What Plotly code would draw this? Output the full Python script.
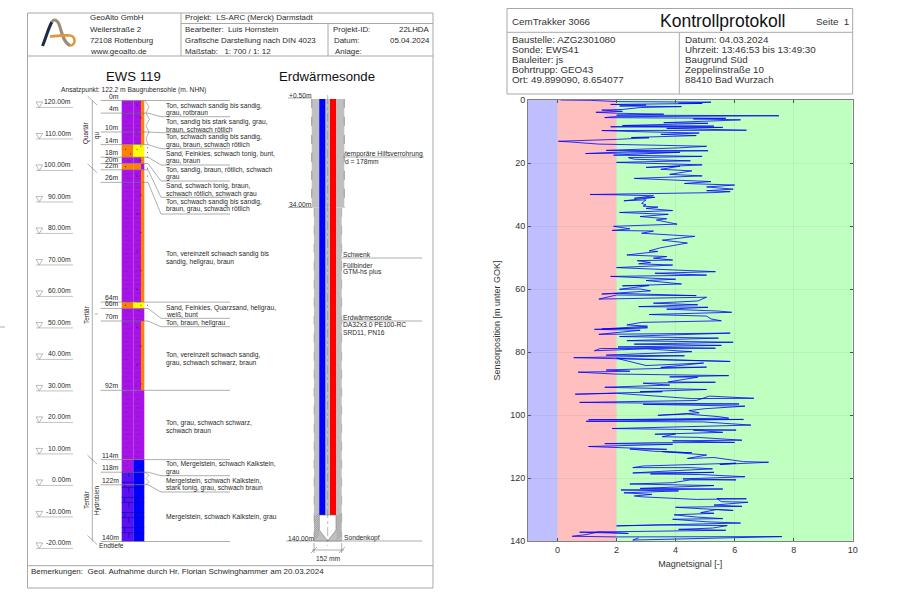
import plotly.graph_objects as go

# Magnetsignal log
signal_depth = [
    0.0, 0.1, 0.5, 0.7, 1.0, 1.1, 1.4, 1.6, 1.9, 2.1, 2.4, 3.0, 3.2, 3.6, 3.9, 4.2, 4.5, 4.8, 5.0, 5.3,
    5.6, 5.8, 6.0, 6.3, 6.5, 7.2, 7.4, 8.1, 8.3, 8.5, 8.7, 9.0, 9.6, 9.7, 10.0, 10.5, 10.9, 11.3, 11.9, 12.0,
    12.5, 13.1, 13.3, 14.0, 14.4, 14.7, 15.2, 16.0, 16.1, 16.4, 17.0, 16.6, 17.5, 17.9, 18.3, 18.8, 19.3, 19.8, 20.6, 21.4,
    21.0, 22.0, 22.5, 23.6, 24.1, 24.9, 25.9, 26.5, 27.0, 27.6, 28.3, 28.8, 29.1, 29.4, 30.0, 29.7, 30.1, 30.4, 31.2, 30.9,
    32.0, 31.7, 32.8, 33.3, 33.7, 34.0, 34.4, 35.1, 35.7, 36.3, 37.0, 37.7, 38.1, 39.4, 40.1, 40.9, 41.4, 41.6, 42.3, 43.3,
    43.9, 44.5, 45.4, 46.9, 47.9, 48.1, 49.2, 49.7, 50.2, 50.8, 51.0, 51.6, 52.0, 52.4, 53.2, 53.7, 54.5, 55.0, 55.6, 56.0,
    56.4, 56.9, 57.3, 58.4, 59.0, 58.9, 60.1, 60.0, 60.6, 61.6, 61.4, 62.1, 61.9, 63.2, 62.6, 63.8, 64.5, 65.0, 65.6, 65.8,
    66.4, 67.0, 67.4, 68.1, 68.6, 69.5, 70.1, 70.6, 71.4, 71.8, 72.7, 72.3, 72.8, 73.1, 74.4, 74.0, 75.1, 75.6, 76.4, 76.9,
    77.5, 77.9, 78.4, 78.8, 78.9, 79.6, 79.0, 79.9, 81.0, 81.2, 81.8, 83.0, 82.0, 84.3, 83.5, 84.9, 84.8, 85.7, 86.1, 86.4,
    87.0, 87.2, 87.5, 87.9, 88.0, 89.5, 89.6, 89.9, 90.5, 91.2, 91.9, 92.6, 92.6, 93.4, 93.1, 94.8, 94.7, 94.0, 95.4, 96.0,
    96.5, 96.6, 97.2, 98.0, 98.6, 99.3, 100.1, 99.7, 100.5, 101.0, 101.4, 101.5, 101.4, 102.0, 102.2, 103.2, 104.2, 104.3, 104.8, 104.8,
    105.5, 106.1, 106.0, 106.9, 107.1, 108.0, 108.2, 108.7, 108.8, 109.1, 109.3, 110.0, 110.3, 110.9, 110.8, 111.5, 112.0, 111.6, 112.7, 113.8,
    113.5, 114.3, 114.8, 115.0, 115.7, 115.3, 116.2, 116.7, 116.7, 117.1, 117.9, 118.4, 118.2, 118.7, 118.9, 119.6, 120.3, 120.6, 120.6, 121.5,
    121.9, 122.4, 123.3, 123.5, 123.8, 124.1, 124.7, 125.2, 125.7, 126.0, 126.8, 126.6, 126.5, 127.5, 127.7, 128.6, 129.0, 129.3, 130.3, 130.0,
    131.0, 131.2, 131.7, 132.4, 132.9, 133.1, 133.9, 134.3, 135.2, 134.9, 135.1, 135.9, 136.3, 136.6, 137.2, 137.6, 137.1, 138.0, 138.5, 138.7,
    138.6, 139.7, 139.0,
]
signal_value = [
    0.1, 1.1, 2.0, 5.2, 4.1, 4.9, 1.8, 3.0, 2.1, 4.2, 2.8, 2.2, 1.5, 2.2, 1.3, 2.0, 3.6, 2.0, 7.5, 1.9,
    1.6, 5.7, 4.6, 6.2, 5.7, 3.6, 5.1, 2.2, 5.3, 1.8, 5.6, 3.7, 6.4, 1.5, 2.5, 4.8, 3.5, 4.7, 2.5, 3.1,
    2.0, 0.03, 0.4, 1.4, 3.6, 5.05, 4.1, 1.65, 5.1, 2.45, 0.95, 4.15, 1.9, 4.9, 2.4, 2.6, 4.5, 2.0, 4.9, 3.0,
    4.15, 3.5, 4.55, 3.8, 4.9, 2.6, 5.2, 4.3, 6.0, 5.05, 5.95, 5.05, 5.85, 5.3, 1.1, 4.15, 2.0, 3.25, 2.6, 3.3,
    2.25, 3.0, 2.85, 3.0, 2.9, 3.4, 3.0, 3.9, 2.1, 3.75, 2.8, 3.7, 3.35, 4.05, 1.9, 2.45, 1.85, 3.25, 2.85, 4.65,
    4.1, 3.55, 4.4, 3.5, 3.1, 3.4, 2.35, 3.7, 3.25, 3.9, 2.7, 3.15, 2.75, 3.9, 2.0, 3.15, 5.35, 3.3, 5.05, 1.8,
    3.0, 4.0, 3.0, 4.2, 2.2, 3.1, 2.1, 2.8, 3.15, 1.5, 2.1, 4.7, 2.0, 1.4, 5.05, 4.75, 3.25, 4.75, 2.75, 5.1,
    3.7, 5.45, 5.9, 3.1, 5.05, 5.2, 5.55, 2.85, 2.35, 3.05, 1.5, 3.05, 1.25, 2.8, 1.4, 5.85, 2.1, 5.45, 2.35, 5.95,
    2.6, 5.55, 2.05, 5.35, 1.45, 1.25, 3.0, 4.55, 1.65, 4.3, 0.55, 5.85, 2.0, 3.0, 4.95, 3.5, 5.05, 1.65, 2.45, 0.7,
    1.95, 3.5, 5.8, 3.8, 4.75, 3.75, 5.35, 2.9, 3.8, 1.6, 5.05, 2.8, 3.55, 0.6, 2.0, 4.55, 6.65, 5.15, 4.7, 0.75,
    6.15, 2.9, 6.35, 5.0, 4.45, 4.8, 3.4, 4.4, 5.45, 5.8, 2.6, 1.05, 6.3, 0.97, 4.95, 6.55, 2.1, 1.85, 6.05, 4.6,
    5.6, 3.3, 4.0, 3.55, 4.75, 6.25, 3.9, 6.0, 3.25, 1.6, 3.9, 1.05, 2.0, 3.7, 2.45, 3.25, 4.55, 3.55, 5.05, 4.4,
    5.3, 5.85, 6.3, 7.15, 5.5, 6.05, 2.9, 2.55, 4.5, 5.25, 3.5, 2.55, 5.3, 3.15, 4.85, 6.35, 4.25, 6.05, 4.5, 3.9,
    2.45, 5.3, 2.8, 5.6, 2.15, 4.1, 2.25, 3.2, 2.6, 2.9, 4.7, 6.4, 5.4, 5.55, 6.45, 5.3, 6.25, 4.0, 5.95, 5.4,
    4.85, 5.3, 3.95, 4.7, 5.6, 3.9, 5.05, 6.2, 2.0, 3.5, 5.75, 5.25, 4.1, 5.7, 0.75, 2.4, 1.4, 0.95, 0.5, 2.0,
    7.6, 2.55, 2.75,
]
zone_edges = [-1, 0, 2, 10]
zone_colors = ["#bfbfff", "#ffbfbf", "#bfffbf"]

# borehole layers
layer_top = [0, 14, 18, 20, 22, 64, 66, 70, 92, 114, 118, 122]
layer_bottom = [14, 18, 20, 22, 64, 66, 70, 92, 114, 118, 122, 140]
P, O, Y, B, V = "#a814e8", "#ff8000", "#ffff00", "#0000ff", "#5a10f0"
layer_left = [P, O, P, O, P, O, P, P, P, P, V, V]
layer_mid = [P, Y, P, O, P, Y, P, P, P, B, B, B]
layer_right = [O, Y, O, P, O, Y, P, O, P, B, B, B]
depth_marks = [0, 4, 10, 14, 18, 20, 22, 26, 64, 66, 70, 92, 114, 118, 122, 140]
elevations = [120, 110, 100, 90, 80, 70, 60, 50, 40, 30, 20, 10, 0, -10, -20]
ground_level = 122.2

note_lines = [
    "Ton, schwach sandig bis sandig,", "grau, rotbraun",
    "Ton, sandig bis stark sandig, grau,", "braun, schwach rötlich",
    "Ton, schwach sandig bis sandig,", "grau, braun, schwach rötlich",
    "Sand, Feinkies, schwach tonig, bunt,", "grau, braun",
    "Ton, sandig, braun, rötlich, schwach", "grau",
    "Sand, schwach tonig, braun,", "schwach rötlich, schwach grau",
    "Ton, schwach sandig bis sandig,", "braun, grau, schwach rötlich",
    "Ton, vereinzelt schwach sandig bis", "sandig, hellgrau, braun",
    "Sand, Feinkies, Quarzsand, hellgrau,", "weiß, bunt",
    "Ton, braun, hellgrau",
    "Ton, vereinzelt schwach sandig,", "grau, schwach schwarz, braun",
    "Ton, grau, schwach schwarz,", "schwach braun",
    "Ton, Mergelstein, schwach Kalkstein,", "grau",
    "Mergelstein, schwach Kalkstein,", "stark tonig, grau, schwach braun",
    "Mergelstein, schwach Kalkstein, grau",
]
note_rows = [
    105.7, 113, 121.7, 129.3, 137.3, 145, 153.7, 161, 169.7, 177.3, 186, 193.7, 202, 209.3,
    254, 262, 307.7, 314.7, 323.3, 355, 362.7, 423, 430, 464.3, 472, 480.7, 488.3, 516.7,
]
elbow_depths = [4, 10, 14, 18, 20, 22, 26, 66, 70, 118, 122]
elbow_rows = [116.7, 132.7, 148.7, 165, 181, 197.3, 214, 318.3, 326.7, 475.7, 492]
straight_depths = [0, 64, 92, 114, 140]

header_left = ["GeoAlto GmbH", "Weilerstraße 2", "72108 Rottenburg", "www.geoalto.de"]
header_mid = ["Projekt:  LS-ARC (Merck) Darmstadt", "Bearbeiter:  Luis Hornstein",
              "Grafische Darstellung nach DIN 4023", "Maßstab:   1: 700 / 1: 12"]
header_rows = [17.5, 29, 40, 51]
protocol_left = ["Baustelle: AZG2301080", "Sonde: EWS41", "Bauleiter: js", "Bohrtrupp: GEO43",
                 "Ort: 49.899090, 8.654077"]
protocol_right = ["Datum: 04.03.2024", "Uhrzeit: 13:46:53 bis 13:49:30", "Baugrund Süd",
                  "Zeppelinstraße 10", "88410 Bad Wurzach"]
protocol_rows = [39, 49, 59, 69, 79]

FONT = "Liberation Sans"
GREY = "#a8a8a8"
TXT = "#2a2a2a"
shapes = []
notes = []


def text(x, y, s, size=6.7, anchor="left", angle=0, color=TXT, yref="y2"):
    notes.append(dict(x=x, y=y, xref="x2", yref=yref, text=s, showarrow=False, xanchor=anchor,
                      yanchor="middle", textangle=angle, borderpad=0,
                      font=dict(family=FONT, size=size, color=color)))


def line(x0, y0, x1, y1, color="#777777", width=0.6, yref="y2", dash=None):
    shapes.append(dict(type="line", x0=x0, y0=y0, x1=x1, y1=y1, xref="x2", yref=yref, layer="above",
                       line=dict(color=color, width=width, dash=dash)))


def rect(x0, y0, x1, y1, fill, yref="y2", border=None, width=0.6):
    shapes.append(dict(type="rect", x0=x0, y0=y0, x1=x1, y1=y1, xref="x2", yref=yref, layer="above",
                       fillcolor=fill, line=dict(color=border or fill, width=width if border else 0)))


def path(d, color, width=0.6, yref="y2", fill=None):
    shapes.append(dict(type="path", path=d, xref="x2", yref=yref, layer="above", fillcolor=fill,
                       line=dict(color=color, width=width)))


# frames
rect(27.5, 13, 433, 588, "rgba(0,0,0,0)", border=GREY, width=1)
line(27.5, 56, 433, 56, GREY, 1)
line(181, 13, 181, 56, GREY, 1)
line(181, 23.5, 433, 23.5, GREY, 1)
line(328, 23.5, 328, 56, GREY, 1)
line(27.5, 565.7, 433, 565.7, GREY, 1)
rect(507, 8.5, 852.7, 94, "rgba(0,0,0,0)", border=GREY, width=1)
line(507, 32.3, 852.7, 32.3, GREY, 1)
line(679.3, 32.3, 679.3, 94, GREY, 1)
line(0, 327, 5, 327, "#999999", 0.8)

# logo
path("M 42.5,46 C 46,38 49,26 52,22", "#1c2b45", 3)
path("M 52,22 C 54,18 58,20 60,27 C 62,34 64,43 70,45.5", "#9a8c76", 3)
path("M 70,45.5 C 76,46 76,36 70,35.5 C 63,35 56,36 50,36.5", "#e0973a", 2.6)

for s, r in zip(header_left, header_rows):
    text(89, r, s, 7.9)
for s, r in zip(header_mid, header_rows):
    text(184, r, s, 7.9)
text(332, 29, "Projekt-ID:", 7.9)
text(333, 40, "Datum:", 7.9)
text(333.5, 51, "Anlage:", 7.9)
text(431, 29, "22LHDA", 7.9, "right")
text(431, 40, "05.04.2024", 7.9, "right")
text(133, 76, "EWS 119", 13.2, "center", color="#111111")
text(327, 76, "Erdwärmesonde", 13.2, "center", color="#111111")
text(133.5, 89.5, "Ansatzpunkt: 122.2 m Baugrubensohle (m. NHN)", 6.7, "center")
text(30, 571.5, "Bemerkungen:  Geol. Aufnahme durch Hr. Florian Schwinghammer am 20.03.2024", 8)

# borehole column
XL, XM, XR, XE = 121.7, 133.3, 141.0, 144.3
for top, bot, a, b, c in zip(layer_top, layer_bottom, layer_left, layer_mid, layer_right):
    rect(XL, top, XM, bot, a, "y3")
    rect(XM, top, XR, bot, b, "y3")
    rect(XR, top, XE, bot, c, "y3")

# soil hatching
dash_path = ""
d = 1.0
k = 0
while d < 118:
    if not (14 <= d < 18 or 20 <= d < 22 or 64 <= d < 66):
        off = 2 if k % 2 else 0
        dash_path += f"M {XL + 2 + off},{d} L {XL + 7 + off},{d} M {XM + 1 + off},{d} L {XM + 5 + off},{d} "
    d += 1.4
    k += 1
path(dash_path, "#6a18a0", 0.4, "y3")
dots = [1.5, 5.5, 10, 14.5, 15.5, 19, 24, 30, 36, 42, 48, 54, 60, 65, 72, 78, 84, 90]
dot_path = ""
for i, d in enumerate(dots):
    x = 136.7 if i % 2 == 0 else 140.5
    dot_path += f"M {x},{d} L {x + 0.8},{d} "
path(dot_path + "M 125,15.5 L 125.8,15.5 M 130,17 L 130.8,17 M 125,21 L 125.8,21 M 125,65 L 125.8,65 ", "#000000", 0.9, "y3")
brick = ""
d = 118.0
k = 0
while d < 140:
    brick += f"M {XL},{d} L {XE},{d} "
    off = 0 if k % 2 else 4
    brick += f"M {XL + 3 + off},{d} L {XL + 3 + off},{d + 1.6} M {XM + 2 + off},{d} L {XM + 2 + off},{d + 1.6} "
    d += 1.6 if k % 2 else 3.2
    k += 1
path(brick, "#0000a0", 0.5, "y3")

# wiggles next to the column
path("M 145,0 L 149,2 L 146,4 L 149.5,6 L 146,8 L 149,10 L 146,12 L 148,14", "#666666", 0.5, "y3")
path("M 145,118 L 149,119 L 146,120 L 149,121 L 146,122", "#666666", 0.5, "y3")
for d in [15, 16.5, 18, 21.5, 24]:
    path(f"M 147,{d} L 147.7,{d}", "#000000", 0.9, "y3")
path("M 147,65 L 147.7,65", "#000000", 0.9, "y3")

# depth marks and note underlines
for d in depth_marks:
    text(120, d, f"{d}m", 6.8, "right", yref="y3")
    notes[-1]["yshift"] = 4.5
for d in straight_depths:
    line(100.7, d, 230, d, yref="y3")
for d, r in zip(elbow_depths, elbow_rows):
    line(100.7, d, 148, d, yref="y3")
    path(f"M 148,{100.5 + d * 3.15} L 161,{r} L 230,{r}", "#777777", 0.6)
for s, r in zip(note_lines, note_rows):
    text(164.5, r, s)

# stratigraphy axis on the left
line(92.3, 0, 92.3, 140, yref="y3")
for d in [0, 21.5, 114, 139.5]:
    y = 100.5 + d * 3.15
    line(87.5, y - 4.5, 97, y + 4.5)
line(95, 314, 98, 314)
text(86, 133, "Quartär", 6.4, "center", -90)
text(97, 135, "qu", 6.4, "center", -90)
text(86, 315, "Tertiär", 6.4, "center", -90)
text(86, 500, "Tertiär", 6.4, "center", -90)
text(97, 500, "Hydrobien", 6.4, "center", -90)
text(98, 545.5, "Endtiefe", 6.7)

# elevation column
for e in elevations:
    d = ground_level - e
    line(36, d, 73, d, "#999999", 0.6, "y3")
    path(f"M 36,{d - 1.75} L 42.7,{d - 1.75} L 39.3,{d} Z", "#777777", 0.5, "y3", "#ffffff")
    text(72, d, f"{e:.2f}m", 6.8, "right", yref="y3")
    notes[-1]["yshift"] = 5.5

# probe drawing
CX = 327.7
rect(311.7, -0.5, 344.3, 34, "#c0c0c0", "y3")
rect(314, 34, 341.7, 140, "#c0c0c0", "y3")
for x in [311.7, 344.3]:
    line(x, -0.5, x, 34, "#666666", 0.6, "y3", "dash")
for x in [314, 341.7]:
    line(x, 34, x, 140, "#888888", 0.5, "y3", "dash")
rect(319.3, -0.5, 325.3, 131.6, "#0000ff", "y3")
rect(330, -0.5, 336, 131.6, "#ff0000", "y3")
hatch = ""
for i in range(12):
    y = 518 + i * 2
    hatch += f"M 314,{y} L 319,{y - 5} M 336.5,{y} L 341.5,{y - 5} "
path(hatch, "#888888", 0.5)
path(f"M 319.3,515 L 336,515 L 336,530 L {CX},541 L 319.3,530 Z", "#666666", 0.5, fill="#ffffff")
line(CX, 95, CX, 546, "#777777", 0.5, dash="dashdot")
line(286, 541, 422, 541, "#777777", 0.6)
line(288, 98, 311.7, 98)
line(288, 207.5, 311.7, 207.5)
line(314, 543, 314, 553)
line(341.7, 543, 341.7, 553)
line(312, 550, 344, 550)
line(311, 553, 317, 547)
line(339, 553, 345, 547)
line(343, 157, 424, 157)
line(342, 258, 422, 258)
line(342, 321, 422, 321)
text(288, 95, "+0.50m", 6.7)
text(288, 204, "34.00m", 6.7)
text(287, 538, "140.00m", 6.7)
text(342.5, 538, "Sondenkopf", 6.7)
text(328, 558, "152 mm", 6.7, "center")
for s, r in zip(["temporäre Hilfsverrohrung", "d = 178mm"], [153.7, 161]):
    text(344, r, s)
for s, r in zip(["Schwenk", "Füllbinder", "GTM-hs plus", "Erdwärmesonde", "DA32x3.0 PE100-RC", "SRD11, PN16"],
                [254.5, 265, 272, 317, 324.5, 332]):
    text(342, r, s)

# protocol header
text(511, 21, "CemTrakker 3066", 9.8, color="#333333")
text(722.5, 21, "Kontrollprotokoll", 17.5, "center", color="#111111")
text(850, 21, "Seite  1", 9.8, "right", color="#333333")
for s, r in zip(protocol_left, protocol_rows):
    text(511, r, s, 9.8, color="#333333")
for s, r in zip(protocol_right, protocol_rows):
    text(684, r, s, 9.8, color="#333333")

# coloured bands of the magnet plot
for x0, x1, c in zip(zone_edges[:-1], zone_edges[1:], zone_colors):
    shapes.append(dict(type="rect", xref="x", yref="y", x0=x0, x1=x1, y0=0, y1=140, layer="below",
                       fillcolor=c, line=dict(width=0)))

fig = go.Figure()
fig.add_trace(go.Scatter(x=signal_value, y=signal_depth, mode="lines", xaxis="x", yaxis="y",
                         line=dict(color="rgba(0,0,255,0.8)", width=1), hoverinfo="skip"))
fig.add_trace(go.Scatter(x=[None], y=[None], xaxis="x2", yaxis="y2", hoverinfo="skip"))
fig.add_trace(go.Scatter(x=[None], y=[None], xaxis="x2", yaxis="y3", hoverinfo="skip"))

fig.update_layout(
    width=900, height=600, margin=dict(l=0, r=0, t=0, b=0, autoexpand=False), showlegend=False,
    paper_bgcolor="white", plot_bgcolor="rgba(0,0,0,0)", font=dict(family=FONT, size=9, color="#333333"),
    shapes=shapes, annotations=notes,
    xaxis=dict(domain=[528 / 900, 852.7 / 900], range=[-1, 10], tickvals=[0, 2, 4, 6, 8, 10], ticks="inside",
               ticklen=3, tickcolor="#555555", mirror="ticks", showline=True, linecolor="#808080", linewidth=1,
               showgrid=True, gridcolor="rgba(0,0,0,0.05)", zeroline=False, anchor="y",
               title=dict(text="Magnetsignal [-]", standoff=6, font=dict(size=9)), tickfont=dict(size=9)),
    yaxis=dict(domain=[1 - 541 / 600, 1 - 100 / 600], range=[140, 0], tickvals=list(range(0, 141, 20)), ticks="inside",
               ticklen=3, tickcolor="#555555", mirror="ticks", showline=True, linecolor="#808080", linewidth=1,
               showgrid=True, gridcolor="rgba(0,0,0,0.05)", zeroline=False, anchor="x",
               title=dict(text="Sensorposition [m unter GOK]", standoff=8, font=dict(size=9)), tickfont=dict(size=9)),
    xaxis2=dict(domain=[0, 1], range=[0, 900], visible=False, anchor="y2", fixedrange=True),
    yaxis2=dict(domain=[0, 1], range=[600, 0], visible=False, anchor="x2", fixedrange=True),
    yaxis3=dict(domain=[0, 1], range=[(600 - 100.5) / 3.15, -100.5 / 3.15], visible=False, anchor="x2",
                overlaying="y2", fixedrange=True),
)

fig.write_html("out.html", config={"displayModeBar": False},
               post_script="document.body.style.margin='0';document.body.style.overflow='hidden';")
